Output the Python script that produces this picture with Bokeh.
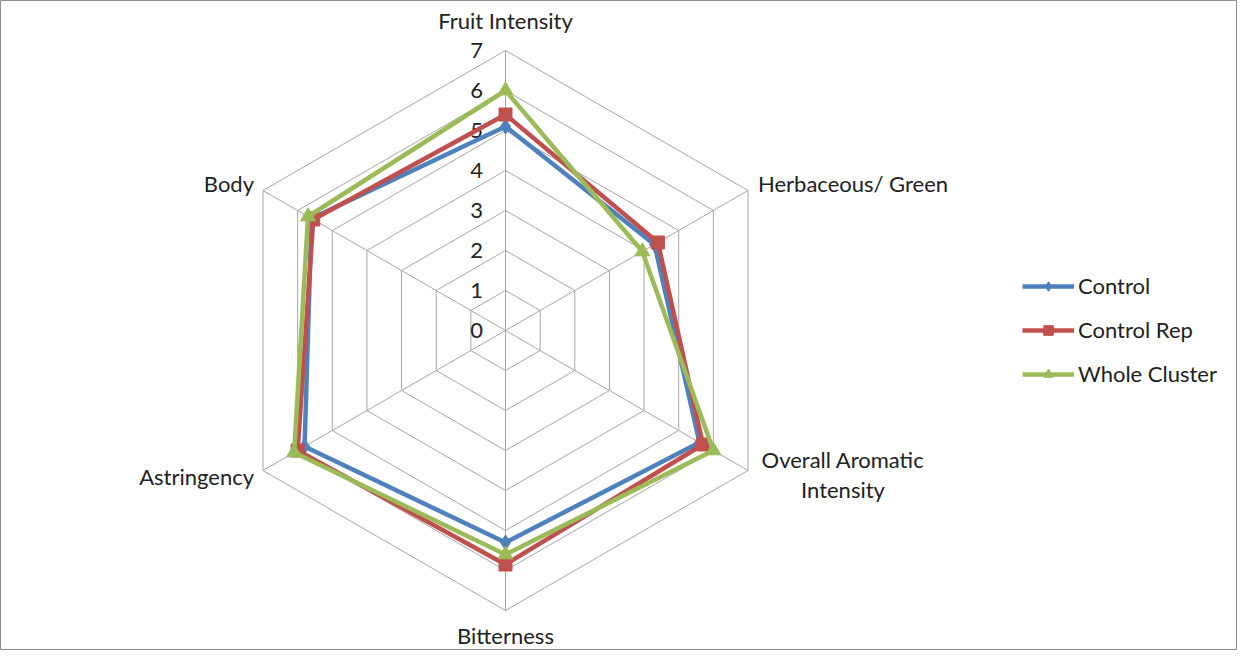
import numpy as np
from bokeh.plotting import figure
from bokeh.models import Range1d, Legend, LegendItem, ColumnDataSource
from bokeh.core.properties import value
from bokeh.embed import file_html
from bokeh.resources import INLINE

categories = ["Fruit Intensity", "Herbaceous/ Green", "Overall Aromatic\nIntensity",
              "Bitterness", "Astringency", "Body"]
control = [5.1, 4.3, 5.6, 5.3, 5.8, 5.6]
control_rep = [5.4, 4.4, 5.7, 5.85, 6.0, 5.55]
whole_cluster = [6.0, 3.95, 6.0, 5.6, 6.1, 5.7]
series_names = ["Control", "Control Rep", "Whole Cluster"]
tick_values = [0, 1, 2, 3, 4, 5, 6, 7]

colors = ["#4F81BD", "#C0504D", "#9BBB59"]
markers = ["diamond", "square", "triangle"]
msizes = [15, 13, 15]
FONT = "Lato"
FS = "22px"
GRID = "#A6A6A6"

W, H = 1237, 650
PX = 40.0  # px per unit
cx_px, cy_px = 505, 330  # centre from left / top
p = figure(width=W, height=H, output_backend="svg", toolbar_location=None,
           x_range=Range1d(-cx_px / PX, (W - cx_px) / PX),
           y_range=Range1d(-(H - cy_px) / PX, cy_px / PX),
           min_border=0, x_axis_type=None, y_axis_type=None)
p.grid.visible = False
p.outline_line_color = "#8C8C8C"
p.outline_line_width = 1
p.background_fill_color = "white"
p.border_fill_color = "white"

n = len(categories)
ang = np.pi / 2 - np.arange(n) * 2 * np.pi / n
ca, sa = np.cos(ang), np.sin(ang)
rmax = tick_values[-1]

# grid hexagons
for t in tick_values[1:]:
    xs = list(t * ca) + [t * ca[0]]
    ys = list(t * sa) + [t * sa[0]]
    p.line(xs, ys, line_color=GRID, line_width=1)
# spokes
for i in range(n):
    p.line([0, rmax * ca[i]], [0, rmax * sa[i]], line_color=GRID, line_width=1)

# tick labels
p.text(x=[-0.56] * len(tick_values), y=tick_values, text=[str(t) for t in tick_values],
       text_align="right", text_baseline="middle", text_font=value(FONT),
       text_font_size=FS, text_color="#222222")

# series
items = []
for name, vals, col, mk, ms in zip(series_names, [control, control_rep, whole_cluster],
                                   colors, markers, msizes):
    v = np.array(vals)
    xs = list(v * ca) + [v[0] * ca[0]]
    ys = list(v * sa) + [v[0] * sa[0]]
    ln = p.line(xs, ys, line_color=col, line_width=4.5)
    sc = p.scatter(list(v * ca), list(v * sa), marker=mk, size=ms, fill_color=col,
                   line_color=col)
    items.append(LegendItem(label=name, renderers=[ln, sc]))

# category labels
lx, ly, la = [], [], []
for i, c in enumerate(categories):
    x0, y0 = rmax * ca[i], rmax * sa[i]
    if i == 0:
        lx.append(x0); ly.append(y0 + 30 / PX); la.append("center")
    elif i == 1:
        lx.append(x0 + 10 / PX); ly.append(y0 + 7 / PX); la.append("left")
    elif i == 2:
        lx.append(x0 + 95 / PX); ly.append(y0 - 4 / PX); la.append("center")
    elif i == 3:
        lx.append(x0); ly.append(y0 - 25 / PX); la.append("center")
    elif i == 4:
        lx.append(x0 - 9 / PX); ly.append(y0 - 6 / PX); la.append("right")
    else:
        lx.append(x0 - 9 / PX); ly.append(y0 + 7 / PX); la.append("right")
src = ColumnDataSource(dict(x=lx, y=ly, t=categories, a=la))
p.text(x="x", y="y", text="t", text_align="a", text_baseline="middle", source=src,
       text_font=value(FONT), text_font_size=FS, text_color="#222222",
       text_line_height=1.14)

legend = Legend(items=items, location=(1022, 263), orientation="vertical",
                label_text_font=FONT, label_text_font_size=FS,
                label_text_color="#222222", glyph_width=52, glyph_height=24,
                label_height=24,
                label_standoff=4, spacing=17, border_line_color=None,
                background_fill_alpha=0, padding=0, margin=0)
p.add_layout(legend)

open("out.html", "w").write(file_html(p, INLINE))
